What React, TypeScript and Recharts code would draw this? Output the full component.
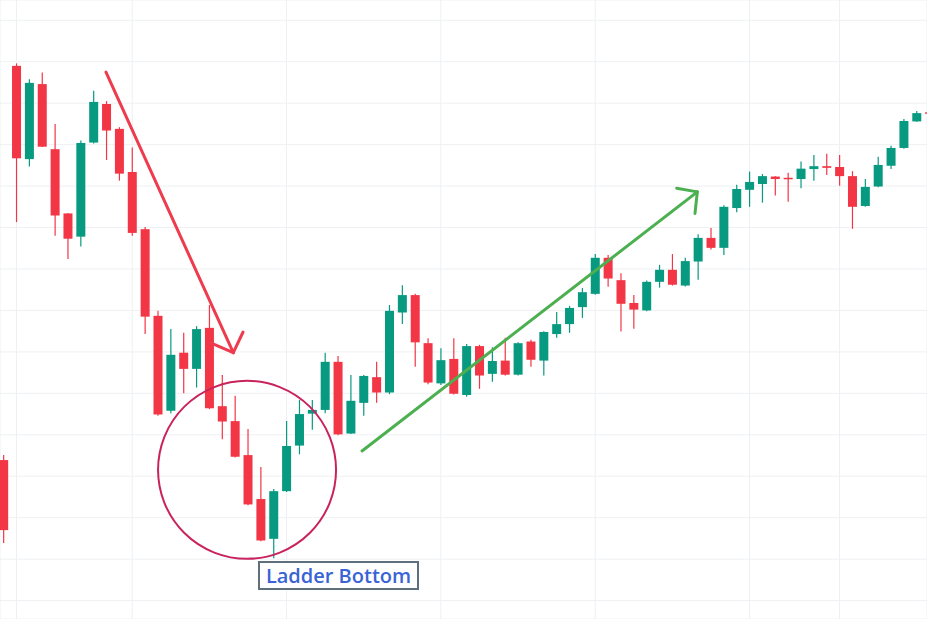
import React from 'react';
import { ComposedChart, Bar, XAxis, YAxis, CartesianGrid, ReferenceLine, ReferenceDot } from 'recharts';

const opens = [33.9, 129.0, 106.5, 124.6, 108.9, 93.4, 87.8, 110.5, 119.8, 113.8, 103.4, 89.6, 68.7, 45.8, 59.8, 55.9, 65.8, 46.9, 43.3, 35.1, 24.5, 14.9, 26.4, 37.4, 45.1, 46.0, 57.6, 40.3, 47.7, 53.9, 50.2, 69.5, 73.7, 62.1, 52.4, 58.3, 49.6, 61.4, 54.7, 57.9, 54.5, 62.5, 57.9, 64.3, 66.7, 70.8, 74.0, 82.7, 77.3, 71.8, 70.0, 76.9, 79.8, 76.0, 81.8, 87.5, 85.1, 94.7, 99.1, 100.5, 102.3, 102.0, 101.7, 104.1, 104.8, 104.6, 102.4, 95.2, 99.9, 104.9, 109.2, 115.6, 117.8];
const closes = [17.0, 106.7, 124.9, 109.5, 92.9, 87.3, 110.4, 120.3, 113.4, 103.0, 88.7, 68.5, 44.9, 59.3, 55.9, 65.5, 46.4, 43.2, 34.7, 23.2, 14.5, 26.4, 37.3, 45.0, 46.0, 57.6, 40.1, 48.2, 54.2, 50.2, 69.9, 73.7, 62.3, 52.6, 58.0, 49.9, 61.4, 54.3, 57.8, 54.5, 62.1, 58.1, 64.8, 66.7, 70.6, 74.4, 82.7, 77.7, 71.6, 70.2, 76.9, 79.8, 76.2, 81.9, 87.5, 85.1, 95.0, 99.3, 101.0, 102.4, 101.7, 101.7, 104.2, 104.8, 104.4, 102.4, 95.0, 99.8, 105.1, 109.2, 115.7, 117.6, 117.5];
const highs = [35.1, 129.6, 125.8, 127.4, 115.0, 93.5, 111.0, 123.0, 120.5, 114.2, 109.3, 90.1, 69.9, 65.5, 64.6, 66.2, 71.3, 54.4, 49.4, 41.4, 32.2, 26.9, 43.3, 48.4, 48.4, 59.8, 59.0, 54.4, 54.4, 57.6, 71.3, 76.1, 74.0, 63.3, 60.9, 63.3, 61.9, 61.7, 61.1, 63.4, 62.3, 62.9, 65.0, 69.6, 71.1, 75.4, 83.6, 83.4, 79.0, 73.7, 77.2, 81.0, 83.6, 82.7, 88.4, 89.9, 95.4, 100.3, 103.5, 102.9, 102.4, 103.2, 105.9, 107.5, 107.8, 107.5, 103.6, 101.7, 107.1, 109.7, 116.2, 118.1, 118.0];
const lows = [13.9, 91.3, 104.7, 109.4, 88.0, 82.4, 85.4, 110.3, 106.3, 101.3, 88.0, 64.3, 44.6, 45.2, 50.0, 51.4, 46.2, 38.9, 34.5, 23.0, 14.3, 10.2, 26.2, 35.3, 41.2, 45.2, 39.9, 40.2, 44.6, 47.7, 49.8, 66.7, 56.4, 52.2, 52.0, 49.7, 49.2, 51.1, 52.8, 54.3, 54.3, 56.4, 54.3, 63.4, 64.6, 68.2, 73.8, 75.7, 64.9, 65.6, 69.8, 75.5, 76.0, 75.8, 77.4, 84.7, 83.4, 93.7, 95.0, 96.0, 97.7, 96.2, 99.5, 101.3, 102.7, 100.1, 89.7, 95.0, 99.7, 104.1, 109.0, 115.5, 117.3];

const gridTicksX = [1, 10, 22, 34, 46, 58, 65];
const gridTicksY = [0, 10, 20, 30, 40, 50, 60, 70, 80, 90, 100, 110, 120, 130, 140];

// annotations (x in candle index units, y in price units)
const redArrowShaft = [[7.96, 127.5], [17.86, 59.8]];
const redArrowHead = [[16.1, 62.2], [17.86, 59.8], [18.62, 64.8]];
const greenArrowShaft = [[27.87, 36.1], [53.94, 98.6]];
const greenArrowHead = [[52.34, 99.5], [53.94, 98.6], [53.76, 93.4]];
const circleCenter = [18.93, 31.55];
const labelText = 'Ladder Bottom';

const UP = '#089981';
const DOWN = '#f23645';

const data = opens.map((o, i) => ({
  i,
  open: o,
  close: closes[i],
  high: highs[i],
  low: lows[i],
  range: [lows[i], highs[i]],
}));

const Candle = (props: any) => {
  const { x, y, width, height, payload } = props;
  if (!payload || x == null || y == null) return null;
  const { open, close, high, low } = payload;
  const top = Math.min(y, y + height);
  const bot = Math.max(y, y + height);
  const k = high - low > 0 ? (bot - top) / (high - low) : 0;
  const py = (v: number) => top + (high - v) * k;
  const up = close >= open;
  const color = up ? UP : DOWN;
  const bTop = py(Math.max(open, close));
  const bBot = py(Math.min(open, close));
  const cx = x + width / 2;
  return (
    <g>
      <line x1={cx} x2={cx} y1={top} y2={bot} stroke={color} strokeWidth={1.2} />
      <rect x={x} y={bTop} width={width} height={Math.max(1.5, bBot - bTop)} fill={color} />
    </g>
  );
};

const seg = (pts: number[][], a: number, b: number) => [
  { x: pts[a][0], y: pts[a][1] },
  { x: pts[b][0], y: pts[b][1] },
];

export default function App() {
  return (
    <div style={{ position: 'absolute', left: 0, top: 0, width: 927, height: 619, overflow: 'hidden', background: '#ffffff' }}>
      <ComposedChart width={927} height={619} data={data} margin={{ top: 0, right: 0, bottom: 0, left: 0 }}>
        <CartesianGrid stroke="#eef0f3" strokeWidth={1} />
        <XAxis
          dataKey="i"
          type="number"
          domain={[-0.28, 71.8]}
          ticks={gridTicksX}
          allowDataOverflow
          hide
        />
        <YAxis type="number" domain={[-4.44, 144.89]} ticks={gridTicksY} allowDataOverflow hide />
        <Bar dataKey="range" barSize={9} shape={<Candle />} isAnimationActive={false} />
        <ReferenceDot
          x={circleCenter[0]}
          y={circleCenter[1]}
          r={89}
          fill="none"
          stroke="#c9235e"
          strokeWidth={2}
          ifOverflow="visible"
        />
        <ReferenceLine segment={seg(redArrowShaft, 0, 1)} stroke="#ee3b4d" strokeWidth={3} strokeLinecap="round" ifOverflow="visible" />
        <ReferenceLine segment={seg(redArrowHead, 0, 1)} stroke="#ee3b4d" strokeWidth={3} strokeLinecap="round" ifOverflow="visible" />
        <ReferenceLine segment={seg(redArrowHead, 1, 2)} stroke="#ee3b4d" strokeWidth={3} strokeLinecap="round" ifOverflow="visible" />
        <ReferenceLine segment={seg(greenArrowShaft, 0, 1)} stroke="#4caf50" strokeWidth={3} strokeLinecap="round" ifOverflow="visible" />
        <ReferenceLine segment={seg(greenArrowHead, 0, 1)} stroke="#4caf50" strokeWidth={3} strokeLinecap="round" ifOverflow="visible" />
        <ReferenceLine segment={seg(greenArrowHead, 1, 2)} stroke="#4caf50" strokeWidth={3} strokeLinecap="round" ifOverflow="visible" />
      </ComposedChart>
      <div
        style={{
          position: 'absolute',
          left: 258,
          top: 561,
          width: 161,
          height: 29,
          boxSizing: 'border-box',
          border: '2px solid #5f6f7c',
          background: '#ffffff',
          color: '#3a63d4',
          fontFamily: '"Open Sans", sans-serif',
          fontWeight: 600,
          fontSize: 20,
          lineHeight: '25px',
          textAlign: 'center',
          whiteSpace: 'nowrap',
        }}
      >
        {labelText}
      </div>
    </div>
  );
}
